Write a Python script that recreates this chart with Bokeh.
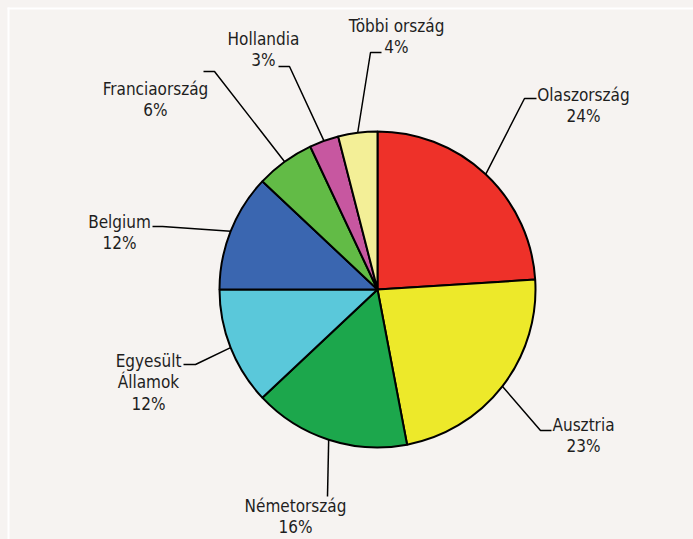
import math
from bokeh.plotting import figure
from bokeh.models import Range1d, ColumnDataSource
from bokeh.embed import file_html
from bokeh.resources import INLINE
from bokeh.core.properties import value

# ---- data ----
countries = ["Olaszország", "Ausztria", "Németország", "Egyesült\nÁllamok",
             "Belgium", "Franciaország", "Hollandia", "Többi ország"]
shares = [24, 23, 16, 12, 12, 6, 3, 4]
colors = ["#ee3129", "#ede92a", "#1ca74c", "#5ac8da",
          "#3a66b0", "#62bb46", "#c757a0", "#f3ef97"]

# ---- layout (page pixels) ----
BG = "#f6f3f1"
W, H = 693, 539
FONT = "'Liberation Sans Narrow', 'DejaVu Sans Condensed', 'Arial Narrow', Roboto, sans-serif"
FONT_SIZE = "17px"
LINE_STEP = 21.5
label_anchor = [(583, 94), (583, 424), (295, 505), (148, 360),
                (119, 221), (155, 88), (263, 38), (396, 25)]
elbow = [(524, 98, 536), (540, 430, 551), (327, 496, 327), (195, 364, 183),
         (162, 226, 152), (214, 71, 203), (289, 66, 278), (370, 52, 381)]


def px(X):
    return X


def py(Y):
    return H - Y


CX, CY, R = px(377), py(289), 158

total = float(sum(shares))
starts, ends, mids = [], [], []
cum = 0.0
for s in shares:
    c0 = cum / total
    cum += s
    c1 = cum / total
    starts.append(math.pi / 2 - c1 * 2 * math.pi)
    ends.append(math.pi / 2 - c0 * 2 * math.pi)
    mids.append(math.pi / 2 - (c0 + c1) / 2 * 2 * math.pi)

p = figure(width=W, height=H, x_range=Range1d(0, W), y_range=Range1d(0, H),
           output_backend="svg", toolbar_location=None, min_border=0,
           x_axis_type=None, y_axis_type=None,
           background_fill_color=BG, border_fill_color=BG)
p.grid.visible = False
p.outline_line_color = None

# white frame lines (left, top)
p.segment(x0=[px(8), px(7)], y0=[py(7), py(8)], x1=[px(8), px(W)], y1=[py(H), py(8)],
          line_color="white", line_width=2)

src = ColumnDataSource(dict(start=starts, end=ends, color=colors))
p.wedge(x=CX, y=CY, radius=R, start_angle="start", end_angle="end",
        fill_color="color", line_color="black", line_width=2, source=src)

# leader lines
xs, ys = [], []
for m, (ex, ey, hx) in zip(mids, elbow):
    ax = CX + R * math.cos(m)
    ay = CY + R * math.sin(m)
    xs.append([ax, px(ex), px(hx)])
    ys.append([ay, py(ey), py(ey)])
p.multi_line(xs, ys, line_color="black", line_width=1.5)

# labels
tx, ty, tt = [], [], []
for name, s, (lx, ly) in zip(countries, shares, label_anchor):
    lines = name.split("\n") + [f"{s}%"]
    for k, ln in enumerate(lines):
        tx.append(px(lx))
        ty.append(py(ly + k * LINE_STEP))
        tt.append(ln)
p.text(x=tx, y=ty, text=tt, text_font=value(FONT), text_font_size=FONT_SIZE,
       text_align="center", text_baseline="middle", text_color="#1e1e1e")

html = file_html(p, INLINE)
html = html.replace("</head>",
                    "<style>html,body{background:%s;overflow:hidden;margin:0;}</style></head>" % BG, 1)
open("out.html", "w").write(html)
